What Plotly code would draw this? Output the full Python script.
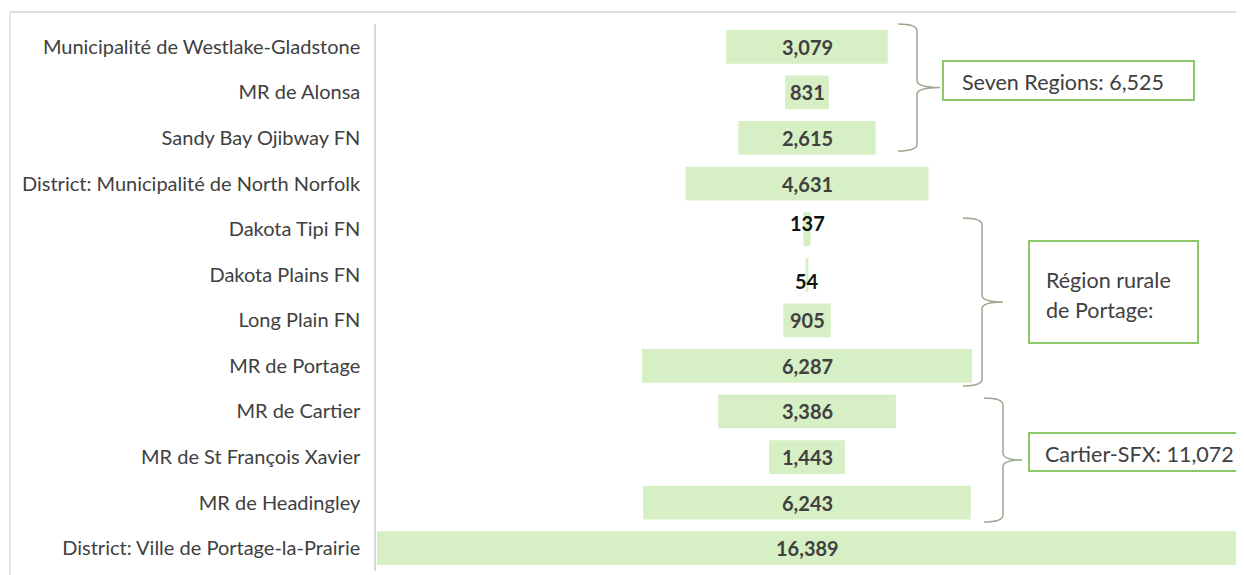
import plotly.graph_objects as go

categories = [
    "Municipalité de Westlake-Gladstone",
    "MR de Alonsa",
    "Sandy Bay Ojibway FN",
    "District: Municipalité de North Norfolk",
    "Dakota Tipi FN",
    "Dakota Plains FN",
    "Long Plain FN",
    "MR de Portage",
    "MR de Cartier",
    "MR de St François Xavier",
    "MR de Headingley",
    "District: Ville de Portage-la-Prairie",
]
values = [3079, 831, 2615, 4631, 137, 54, 905, 6287, 3386, 1443, 6243, 16389]

group_labels = ["Seven Regions: 6,525", "Région rurale<br>de Portage:", "Cartier-SFX: 11,072"]

# page is rendered with an 8px body margin; work in page pixels and convert
OFF = 8
W, H = 1244 - OFF, 575 - OFF
PL, PR, PT, PB = 376, 1238, 24, 571  # plot area in page pixels
XR = max(values) / 2 * (PR - PL) / 860.0

BAR = "#d6efc4"
TXT = "#404040"
FONT = "Lato"

fig = go.Figure()
fig.add_trace(go.Bar(
    y=categories, x=values, base=[-v / 2 for v in values], orientation="h",
    marker=dict(color=BAR, line=dict(width=0)), width=0.74, hoverinfo="skip",
))

# value labels
label_shift = {137: 6, 54: -6}
for c, v in zip(categories, values):
    small = v < 500
    fig.add_annotation(
        x=0, y=c, xref="x", yref="y", text=f"{v:,}", showarrow=False,
        yshift=label_shift.get(v, 0),
        font=dict(family=FONT, size=20, color="#111111" if small else TXT, weight="bold"),
    )


def px(x):
    return (x - PL) / (PR - PL)


def py(y):
    return 1 - (y - PT) / (PB - PT)


def pt(x, y):
    return f"{px(x):.5f},{py(y):.5f}"


def brace(left, vert, tip, top, bot, r=7):
    mid = (top + bot) / 2
    return (f"M {pt(left, top)} Q {pt(vert, top)} {pt(vert, top + r)} "
            f"L {pt(vert, mid - r)} Q {pt(vert, mid)} {pt(tip, mid)} "
            f"Q {pt(vert, mid)} {pt(vert, mid + r)} "
            f"L {pt(vert, bot - r)} Q {pt(vert, bot)} {pt(left, bot)}")


shapes = []
# outer light border (top & left)
shapes.append(dict(type="line", xref="paper", yref="paper", x0=px(10), x1=px(1260), y0=py(12), y1=py(12),
                   line=dict(color="#dedede", width=2)))
shapes.append(dict(type="line", xref="paper", yref="paper", x0=px(10), x1=px(10), y0=py(12), y1=py(590),
                   line=dict(color="#dedede", width=1.5)))

BR = "#9aaa8e"
for b in [(898, 917, 940, 24, 151), (963, 982, 1003, 218, 386), (984, 1003, 1022, 398, 522)]:
    shapes.append(dict(type="path", xref="paper", yref="paper", path=brace(*b),
                       line=dict(color=BR, width=1.5)))

BX = "#8cc86a"
boxes = [(943, 1194, 61, 100), (1029, 1198, 241, 343), (1029, 1270, 433, 471)]
for (x0, x1, y0, y1) in boxes:
    shapes.append(dict(type="rect", xref="paper", yref="paper", x0=px(x0), x1=px(x1), y0=py(y0), y1=py(y1),
                       line=dict(color=BX, width=2), fillcolor="white"))

fig.update_layout(shapes=shapes)

BF = dict(family=FONT, size=21.5, color=TXT)
fig.add_annotation(xref="paper", yref="paper", x=px(1063), y=py(82), text=group_labels[0], showarrow=False,
                   xanchor="center", yanchor="middle", font=BF)
l1, l2 = group_labels[1].split("<br>")
fig.add_annotation(xref="paper", yref="paper", x=px(1044), y=py(280), text=l1, showarrow=False,
                   xanchor="left", yanchor="middle", font=BF)
fig.add_annotation(xref="paper", yref="paper", x=px(1044), y=py(310), text=l2, showarrow=False,
                   xanchor="left", yanchor="middle", font=BF)
fig.add_annotation(xref="paper", yref="paper", x=px(1043), y=py(454), text=group_labels[2], showarrow=False,
                   xanchor="left", yanchor="middle", font=BF)

fig.update_layout(
    width=W, height=H,
    margin=dict(l=PL - OFF, r=W - (PR - OFF), t=PT - OFF, b=H - (PB - OFF), pad=0),
    paper_bgcolor="white", plot_bgcolor="white",
    showlegend=False, bargap=0.26,
    xaxis=dict(range=[-XR, XR], visible=False, fixedrange=True),
    yaxis=dict(type="category", categoryorder="array", categoryarray=categories,
               range=[len(categories) - 0.5, -0.5], showgrid=False, zeroline=False,
               showline=True, linecolor="#d9d9d9", linewidth=1.5, ticks="",
               ticklabelstandoff=10,
               tickfont=dict(family=FONT, size=20, color=TXT), fixedrange=True),
    font=dict(family=FONT),
)

fig.write_html("out.html", config={"displayModeBar": False})
